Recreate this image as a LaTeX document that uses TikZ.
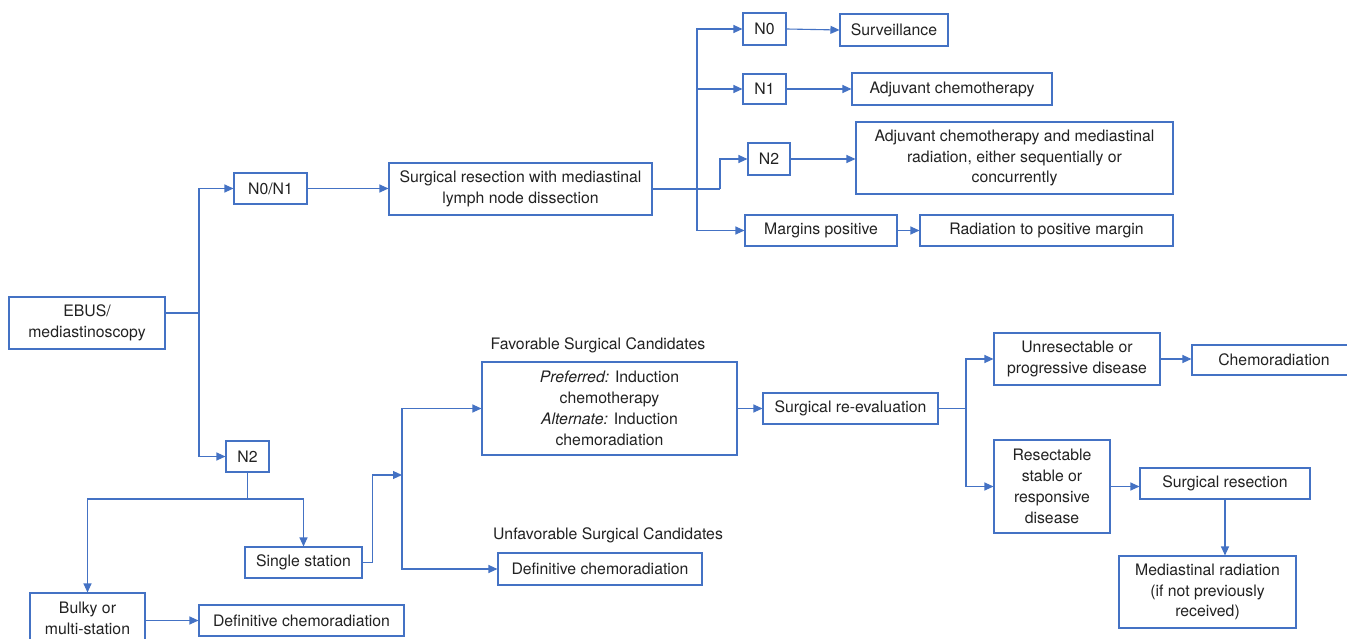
\documentclass[tikz,border=0pt]{standalone}
\usepackage{fontspec}
\setmainfont{TeX Gyre Heros}
\usepackage{tikz}
\usetikzlibrary{arrows.meta,positioning,calc}

\definecolor{boxblue}{HTML}{4472C4}
\definecolor{txtgray}{HTML}{222222}

\begin{document}
\begin{tikzpicture}[x=1pt, y=-1pt,
    box/.style={draw=boxblue, line width=1.1pt, text=txtgray, align=center, inner sep=0pt,
                font=\fontsize{15.8}{20.8}\selectfont},
    lbl/.style={text=txtgray, font=\fontsize{15.8}{20.8}\selectfont},
    line/.style={draw=boxblue, line width=1.1pt},
    arr/.style={line, -{Triangle[length=9pt,width=8pt]}}]
    \useasboundingbox[fill=white] (0,0) rectangle (1347,639);

    % Start
    \node[box, minimum width=156, minimum height=52] (ebus) at (87,323) {EBUS/\\mediastinoscopy};
    \coordinate (t1) at (199,313);

    % N0/N1 branch
    \node[box, minimum width=73, minimum height=31] (nzo) at (270.5,188.5) {N0/N1};
    \node[box, minimum width=263, minimum height=52] (surg) at (520.5,189) {Surgical resection with mediastinal\\lymph node dissection};
    \coordinate (t2) at (697,189);
    \coordinate (t3) at (720,189);
    \node[box, minimum width=43, minimum height=32] (nzero) at (764.5,29) {N0};
    \node[box, minimum width=108, minimum height=32] (surv) at (894,30) {Surveillance};
    \node[box, minimum width=43, minimum height=30] (none) at (764.5,89) {N1};
    \node[box, minimum width=200, minimum height=32] (adj) at (952,89) {Adjuvant chemotherapy};
    \node[box, minimum width=42, minimum height=32] (ntwo) at (769,159) {N2};
    \node[box, minimum width=317, minimum height=72] (adjrad) at (1014.5,158) {Adjuvant chemotherapy and mediastinal\\radiation, either sequentially or\\concurrently};
    \node[box, minimum width=152, minimum height=31] (marg) at (821,230.5) {Margins positive};
    \node[box, minimum width=253, minimum height=31] (radm) at (1046.5,230.5) {Radiation to positive margin};

    % N2 branch
    \node[box, minimum width=43, minimum height=31] (nlow) at (247.5,456.5) {N2};
    \coordinate (t4) at (247.5,499);
    \node[box, minimum width=117, minimum height=31] (single) at (303.5,562.5) {Single station};
    \node[box, minimum width=115, minimum height=50] (bulky) at (87.5,618) {Bulky or\\multi-station};
    \node[box, minimum width=205, minimum height=31] (defl) at (301.5,620.5) {Definitive chemoradiation};
    \coordinate (t5) at (402,475);

    % Surgical candidates
    \node[lbl] (favlbl) at (598,345) {Favorable Surgical Candidates};
    \node[box, minimum width=255, minimum height=93] (fav) at (609.5,408.5) {\textit{Preferred:} Induction\\chemotherapy\\\textit{Alternate:} Induction\\chemoradiation};
    \node[lbl] (unflbl) at (608,535) {Unfavorable Surgical Candidates};
    \node[box, minimum width=204, minimum height=32] (defm) at (600,569) {Definitive chemoradiation};

    % Re-evaluation
    \node[box, minimum width=175, minimum height=31] (reeval) at (850.5,408.5) {Surgical re-evaluation};
    \coordinate (t6) at (966,408.5);
    \node[box, minimum width=166, minimum height=52] (unres) at (1077,359) {Unresectable or\\progressive disease};
    \node[box, minimum width=164, minimum height=30] (chemo) at (1274,360) {Chemoradiation};
    \node[box, minimum width=116, minimum height=93] (resect) at (1052,486.5) {Resectable\\stable or\\responsive\\disease};
    \node[box, minimum width=170, minimum height=31] (sresect) at (1225,483.5) {Surgical resection};
    \node[box, minimum width=177, minimum height=72] (medrad) at (1207.5,592) {Mediastinal radiation\\(if not previously\\received)};

    % Connectors
    \draw[line] ([yshift=10pt]ebus.east) -- (t1);
    \draw[arr] (t1) |- (nzo.west);
    \draw[arr] (t1) |- (nlow.west);
    \draw[arr] (nzo.east) -- (surg.west |- nzo.east);
    \draw[line] (surg.east) -- (t3);
    \draw[arr] (t3) |- (ntwo.west);
    \draw[arr] (t2) |- (nzero.west);
    \draw[arr] (t2) |- (none.west);
    \draw[arr] (t2) |- (marg.west);
    \draw[arr] (nzero.east) -- (surv.west);
    \draw[arr] (none.east) -- (adj.west);
    \draw[arr] (ntwo.east) -- (adjrad.west |- ntwo.east);
    \draw[arr] (marg.east) -- (radm.west);

    \draw[line] (nlow.south) -- (t4);
    \draw[arr] (t4) -| (single.north);
    \draw[arr] (t4) -| (bulky.north);
    \draw[arr] (bulky.east |- defl.west) -- (defl.west);
    \draw[arr] (single.east) -- ++(10,0) |- (t5);
    \draw[arr] (t5) |- (fav.west);
    \draw[arr] (t5) |- (defm.west);

    \draw[arr] (fav.east) -- (reeval.west);
    \draw[line] (reeval.east) -- (t6);
    \draw[arr] (t6) |- (unres.west);
    \draw[arr] (t6) |- (resect.west);
    \draw[arr] (unres.east) -- (chemo.west |- unres.east);
    \draw[arr] (resect.east) -- (sresect.west |- resect.east);
    \draw[arr] (sresect.south) -- (sresect.south |- medrad.north);
\end{tikzpicture}
\end{document}
